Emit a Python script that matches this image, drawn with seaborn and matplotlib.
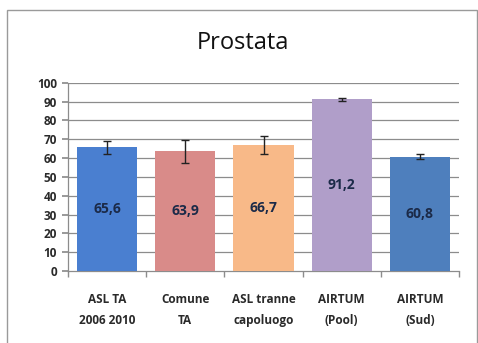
import matplotlib
matplotlib.use("Agg")
import matplotlib.pyplot as plt
import seaborn as sns
import pandas as pd
import numpy as np
from matplotlib.patches import Rectangle

sns.set_theme(style="white")
plt.rcParams['font.family'] = ['Open Sans', 'DejaVu Sans']

categories = ["ASL TA\n2006 2010", "Comune\nTA", "ASL tranne\ncapoluogo", "AIRTUM\n(Pool)", "AIRTUM\n(Sud)"]
values = [65.6, 63.9, 66.7, 91.2, 60.8]
err_low = [3.6, 6.8, 4.8, 0.8, 1.2]
err_high = [3.2, 5.8, 5.0, 0.8, 1.3]
labels = ["65,6", "63,9", "66,7", "91,2", "60,8"]
colors = ["#4a7fd0", "#d98b89", "#f8b988", "#b09ec9", "#4e7fbd"]

df = pd.DataFrame({"cat": categories, "val": values})

fig = plt.figure(figsize=(4.78, 3.43), dpi=100)
fig.patch.set_facecolor("white")
fig.patches.append(Rectangle((7/478, -0.05), 470/478, 1 - 10/343 + 0.05, transform=fig.transFigure,
                             fill=False, edgecolor="#9a9a9a", linewidth=1.0))
ax = fig.add_axes([68/478, 1 - 271/343, (459 - 68)/478, (271 - 82.7)/343])

sns.barplot(data=df, x="cat", y="val", hue="cat", palette=colors, legend=False,
            width=0.77, ax=ax, saturation=1)
for p in ax.patches:
    p.set_edgecolor("none")
    p.set_zorder(3)

x = np.arange(len(values))
ax.errorbar(x, values, yerr=[err_low, err_high], fmt="none", ecolor="#222222",
            elinewidth=1.0, capsize=3, capthick=1.0, zorder=4)

for xi, v, lab in zip(x, values, labels):
    ax.text(xi, v / 2, lab, ha="center", va="center", fontsize=10, fontweight="bold",
            color="#1b2a48", zorder=5)

yticks = np.arange(0, 101, 10)
ax.set_ylim(0, 100)
ax.set_xlim(-0.5, len(values) - 0.5)
ax.set_yticks(yticks)
ax.grid(False)
ax.hlines(yticks[1:], -0.5, len(values) - 0.5, colors="#8c8c8c", linewidth=0.9, zorder=0.5)
ax.set_xlabel("")
ax.set_ylabel("")
ax.set_xticks(x)
ax.set_xticklabels(categories, fontsize=8.5, fontweight="bold", color="#2a2a2a", linespacing=1.8)
ax.set_xticks(np.arange(-0.5, len(values), 1.0), minor=True)
ax.tick_params(axis="x", which="major", length=0, pad=16)
ax.tick_params(axis="x", which="minor", length=4, color="#8c8c8c", direction="out", bottom=True)
ax.tick_params(axis="y", length=4, color="#8c8c8c", direction="out", left=True, labelsize=8.5,
               labelcolor="#2a2a2a", pad=4)
for lab in ax.get_yticklabels():
    lab.set_fontweight("bold")

for s in ["top", "right"]:
    ax.spines[s].set_visible(False)
for s in ["left", "bottom"]:
    ax.spines[s].set_color("#8c8c8c")
    ax.spines[s].set_linewidth(0.9)

fig.text(243/478, 1 - 43/343, "Prostata", ha="center", va="center", fontsize=17, color="#111111")

fig.savefig("out.png", dpi=100)
